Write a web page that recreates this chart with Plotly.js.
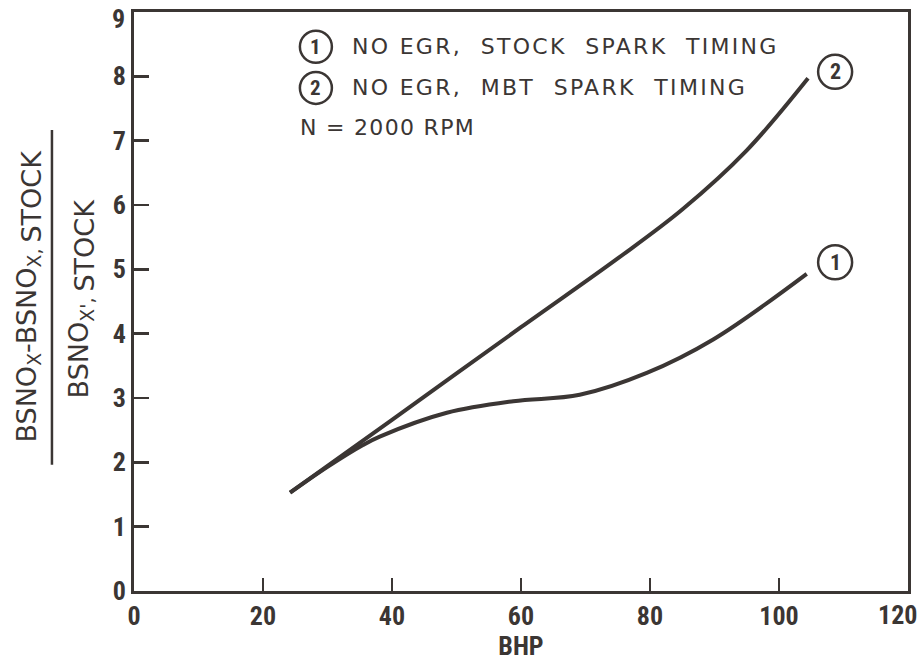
<!DOCTYPE html>
<html>
<head>
<meta charset="utf-8">
<script src="https://cdn.plot.ly/plotly-3.0.1.min.js"></script>
<style>html,body{margin:0;padding:0;background:#fff;}#chart{width:921px;height:661px;}</style>
</head>
<body>
<div id="chart"></div>
<script>
// Curve 1: NO EGR, STOCK SPARK TIMING
const bhp1 = [24.2, 30, 35.5, 38.1, 48.5, 58.8, 69.1, 79.5, 89.8, 104.3];
const ratio1 = [1.53, 1.93, 2.27, 2.40, 2.77, 2.95, 3.05, 3.39, 3.91, 4.93];
// Curve 2: NO EGR, MBT SPARK TIMING
const bhp2 = [24.2, 40, 60, 75, 85, 95, 104.5];
const ratio2 = [1.53, 2.66, 4.10, 5.17, 5.93, 6.85, 7.97];

const xTicks = [0, 20, 40, 60, 80, 100, 120];
const yTicks = [0, 1, 2, 3, 4, 5, 6, 7, 8, 9];
const legendItems = ["NO EGR,\u00a0 STOCK\u00a0 SPARK\u00a0 TIMING", "NO EGR,\u00a0 MBT\u00a0 SPARK\u00a0 TIMING"];
const curveIds = ["1", "2"];
const speedNote = "N = 2000 RPM";
const yTitleNum = "BSNO<sub>X</sub>-BSNO<sub>X, <span style='font-size:27px'>STOCK</span></sub>";
const yTitleDen = "BSNO<sub>X', <span style='font-size:27px'>STOCK</span></sub>";

const ink = "#3b3634";
const tickFam = "Roboto Condensed, Liberation Sans Narrow, DejaVu Sans Condensed, sans-serif";
const tickFont = {family: tickFam, size: 26, color: ink, weight: "bold"};
const txtFont = {family: "DejaVu Sans, sans-serif", size: 22, color: ink};

const traces = [
  {x: bhp1, y: ratio1, mode: "lines", line: {color: ink, width: 4, shape: "spline"}, hoverinfo: "skip"},
  {x: bhp2, y: ratio2, mode: "lines", line: {color: ink, width: 4, shape: "spline"}, hoverinfo: "skip"}
];

function circle(xc, yc, r) {
  return {type: "circle", xref: "x", yref: "y", xsizemode: "pixel", ysizemode: "pixel",
    xanchor: xc, yanchor: yc, x0: -r, x1: r, y0: -r, y1: r,
    line: {color: ink, width: 2.5}, fillcolor: "rgba(0,0,0,0)"};
}

const shapes = [
  // fraction bar of y-axis title
  {type: "line", xref: "paper", yref: "paper", x0: -0.106, x1: -0.106, y0: 0.218, y1: 0.796, line: {color: ink, width: 2.5}},
  circle(28.2, 8.46, 16), circle(28.2, 7.82, 16),
  circle(108.7, 5.11, 17), circle(108.7, 8.07, 17)
];

const idFont = (s) => ({family: tickFam, size: s, color: ink, weight: "bold"});
const annotations = [
  {x: 28.2, y: 8.46, xref: "x", yref: "y", text: curveIds[0], showarrow: false, font: idFont(21)},
  {x: 28.2, y: 7.82, xref: "x", yref: "y", text: curveIds[1], showarrow: false, font: idFont(21)},
  {x: 108.7, y: 5.11, xref: "x", yref: "y", text: curveIds[0], showarrow: false, font: idFont(22)},
  {x: 108.7, y: 8.07, xref: "x", yref: "y", text: curveIds[1], showarrow: false, font: idFont(22)},
  {x: 33.5, y: 8.46, xref: "x", yref: "y", xanchor: "left", text: legendItems[0], showarrow: false, font: txtFont},
  {x: 33.5, y: 7.82, xref: "x", yref: "y", xanchor: "left", text: legendItems[1], showarrow: false, font: txtFont},
  {x: 25.4, y: 7.2, xref: "x", yref: "y", xanchor: "left", text: speedNote, showarrow: false, font: txtFont},
  // edge tick labels pulled inward, as in the reference
  {x: xTicks[6], y: 0, xref: "x", yref: "y", text: String(xTicks[6]), showarrow: false, xanchor: "right", yanchor: "top", xshift: 11, yshift: -7, font: tickFont},
  {x: 0, y: yTicks[9], xref: "x", yref: "y", text: String(yTicks[9]), showarrow: false, xanchor: "right", yanchor: "middle", xshift: -7, yshift: -7, font: tickFont},
  // y-axis title (fraction)
  {x: -0.135, y: 0.5095, xref: "paper", yref: "paper", xanchor: "center", yanchor: "middle", text: yTitleNum, textangle: -90, showarrow: false, font: {family: "DejaVu Sans, sans-serif", size: 27, color: ink}},
  {x: -0.068, y: 0.506, xref: "paper", yref: "paper", xanchor: "center", yanchor: "middle", text: yTitleDen, textangle: -90, showarrow: false, font: {family: "DejaVu Sans, sans-serif", size: 27, color: ink}}
];

const layout = {
  width: 921, height: 661,
  margin: {l: 134, r: 13, t: 12, b: 70},
  paper_bgcolor: "#fff", plot_bgcolor: "#fff",
  showlegend: false,
  xaxis: {range: [0, 120], tickvals: xTicks, ticktext: xTicks.map((v, i) => i === 6 ? "" : String(v)), ticks: "inside", ticklen: 13, tickwidth: 2.5, tickcolor: ink,
    showline: true, linecolor: ink, linewidth: 3, mirror: true, showgrid: false, zeroline: false, tickfont: tickFont,
    title: {text: "BHP", font: tickFont, standoff: 8}},
  yaxis: {range: [0, 9], tickvals: yTicks, ticktext: yTicks.map((v, i) => i === 9 ? "" : String(v)), ticks: "inside", ticklen: 15, tickwidth: 2.5, tickcolor: ink,
    showline: true, linecolor: ink, linewidth: 3, mirror: true, showgrid: false, zeroline: false, tickfont: tickFont},
  shapes: shapes,
  annotations: annotations
};

Plotly.newPlot("chart", traces, layout, {displayModeBar: false, staticPlot: true}).then(function (gd) {
  gd.querySelectorAll(".annotation-text").forEach(function (t) {
    const s = t.textContent;
    let sp = null;
    if (s.indexOf("NO EGR") === 0) sp = "2.3px";
    else if (s === speedNote) sp = "1.3px";
    if (!sp) return;
    const w0 = t.getBBox().width;
    t.style.letterSpacing = sp;
    const w1 = t.getBBox().width;
    // keep the left edge fixed (text is middle-anchored)
    t.setAttribute("transform", "translate(" + ((w1 - w0) / 2) + ",0)");
  });
});
</script>
</body>
</html>
